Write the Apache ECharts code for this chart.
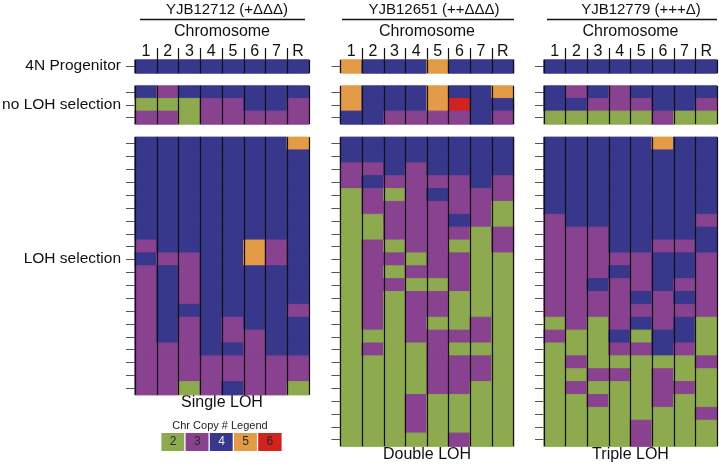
<!DOCTYPE html>
<html><head><meta charset="utf-8">
<script src="https://cdn.jsdelivr.net/npm/echarts@6/dist/echarts.min.js"></script>
<style>html,body{margin:0;padding:0;background:#fff}#c{width:719px;height:465px}</style>
</head><body><div id="c"></div>
<script>
// ---------- DATA ----------
const chromosomes = ['1','2','3','4','5','6','7','R'];
const panelTitles = ['YJB12712 (+ΔΔΔ)','YJB12651 (++ΔΔΔ)','YJB12779 (+++Δ)'];
const panelFooters = ['Single LOH','Double LOH','Triple LOH'];
const rowLabels = ['4N Progenitor','no LOH selection','LOH selection'];
const legendTitle = 'Chr Copy # Legend';
const copyNumbers = [2,3,4,5,6];

// copy numbers: 2 green, 3 purple, 4 blue, 5 orange, 6 red; rows top->bottom, columns 1..7,R
const p1Progenitor = [[4,4,4,4,4,4,4,4]];
const p1NoLoh = [
  [4,3,4,4,4,4,4,4],
  [2,2,2,3,3,4,4,3],
  [3,3,2,3,3,3,3,3]
];
const p1Loh = [
  [4,4,4,4,4,4,4,5],
  [4,4,4,4,4,4,4,4],
  [4,4,4,4,4,4,4,4],
  [4,4,4,4,4,4,4,4],
  [4,4,4,4,4,4,4,4],
  [4,4,4,4,4,4,4,4],
  [4,4,4,4,4,4,4,4],
  [4,4,4,4,4,4,4,4],
  [3,4,4,4,4,5,3,4],
  [4,3,3,4,4,5,3,4],
  [3,4,3,4,4,4,4,4],
  [3,4,3,4,4,4,4,4],
  [3,4,3,4,4,4,4,4],
  [3,4,4,4,4,4,4,3],
  [3,4,3,4,3,4,4,4],
  [3,4,3,4,3,3,4,4],
  [3,3,3,4,4,3,4,4],
  [3,3,3,3,3,3,3,3],
  [3,3,3,3,3,3,3,3],
  [3,3,2,3,4,3,3,2]
];

const p2Progenitor = [[5,4,4,4,5,4,4,4]];
const p2NoLoh = [
  [5,4,4,4,5,4,4,5],
  [5,4,4,4,5,6,4,4],
  [4,4,3,3,3,3,4,3]
];
const p2Loh = [
  [4,4,4,4,4,4,4,4],
  [4,4,4,4,4,4,4,4],
  [3,3,4,3,4,4,4,4],
  [3,4,3,3,3,3,4,3],
  [2,3,2,3,4,3,3,3],
  [2,3,3,3,3,3,3,2],
  [2,2,3,3,3,4,3,2],
  [2,2,3,3,3,3,2,3],
  [2,3,2,3,3,2,2,3],
  [2,3,3,2,3,3,2,2],
  [2,3,2,3,3,3,2,2],
  [2,3,3,2,2,3,2,2],
  [2,3,2,3,3,2,2,2],
  [2,3,2,3,3,2,2,2],
  [2,3,2,3,2,2,3,2],
  [2,2,2,3,3,3,3,2],
  [2,3,2,2,3,2,2,2],
  [2,2,2,2,3,3,3,2],
  [2,2,2,2,3,3,3,2],
  [2,2,2,2,3,3,2,2],
  [2,2,2,3,2,2,2,2],
  [2,2,2,3,2,2,2,2],
  [2,2,2,3,2,2,2,2],
  [2,2,2,2,2,3,2,2]
];

const p3Progenitor = [[4,4,4,4,4,4,4,4]];
const p3NoLoh = [
  [4,3,4,3,4,4,4,4],
  [4,4,3,3,3,4,4,3],
  [2,2,2,2,2,3,2,2]
];
const p3Loh = [
  [4,4,4,4,4,5,4,4],
  [4,4,4,4,4,4,4,4],
  [4,4,4,4,4,4,4,4],
  [4,4,4,4,4,4,4,4],
  [4,4,4,4,4,4,4,4],
  [4,4,4,4,4,4,4,4],
  [3,4,4,4,4,4,4,3],
  [3,3,3,4,4,4,4,4],
  [3,3,3,4,4,3,3,4],
  [3,3,3,3,3,4,4,3],
  [3,3,3,4,3,4,4,3],
  [3,3,4,3,3,4,3,3],
  [3,3,3,3,4,3,4,3],
  [3,3,3,3,3,3,3,3],
  [2,3,2,3,4,3,4,2],
  [3,2,2,4,2,4,4,2],
  [2,2,2,3,3,4,3,2],
  [2,3,2,2,2,2,2,3],
  [2,2,3,3,2,3,2,2],
  [2,3,2,2,2,3,3,2],
  [2,2,3,2,2,3,2,2],
  [2,2,2,2,2,2,2,3],
  [2,2,2,2,3,2,2,2],
  [2,2,2,2,3,2,2,2]
];

// ---------- STYLE / LAYOUT ----------
const copyColors = {2:'#8DAA4E',3:'#88428F',4:'#37378B',5:'#E49B48',6:'#D2221E'};
const FONT = "'Liberation Sans', Arial, sans-serif";
const panelLeft = [135, 340.5, 544];
const panelWidth = [174, 173, 173];
const underline = [[140,305],[342,514],[547,717]];
const titleCenter = [227, 434, 641];
const ROW_H = 12.87;
const panels = [
  {prog:p1Progenitor, noLoh:p1NoLoh, loh:p1Loh},
  {prog:p2Progenitor, noLoh:p2NoLoh, loh:p2Loh},
  {prog:p3Progenitor, noLoh:p3NoLoh, loh:p3Loh}
];

const grids=[], xAxes=[], yAxes=[], series=[], graphics=[];

function toCells(rows){
  const out=[];
  rows.forEach((row,r)=>row.forEach((v,c)=>out.push({value:[c,r,v], itemStyle:{borderColor:copyColors[v], borderWidth:0.9}})));
  return out;
}

panels.forEach((pn,p)=>{
  const L=panelLeft[p], W=panelWidth[p];
  // header grid (column numbers + dividers)
  let gi = grids.length;
  grids.push({left:L, top:48, width:W, height:12, outerBoundsMode:'none'});
  xAxes.push({type:'category', gridIndex:gi, data:chromosomes, position:'bottom',
    axisLine:{show:false}, axisTick:{show:false},
    axisLabel:{show:true, interval:0, margin:-8, verticalAlign:'middle', fontSize:16, color:'#111', fontFamily:FONT},
    splitLine:{show:true, interval:0, showMinLine:false, showMaxLine:false, lineStyle:{color:'#111', width:1.2}}});
  yAxes.push({type:'value', gridIndex:gi, show:false});

  const sections = [
    {rows:pn.prog, top:60, h:13},
    {rows:pn.noLoh, top:86, h:38},
    {rows:pn.loh, top:137.3, h:ROW_H*pn.loh.length}
  ];
  sections.forEach(s=>{
    gi = grids.length;
    grids.push({left:L, top:s.top, width:W, height:s.h, outerBoundsMode:'none'});
    xAxes.push({type:'category', gridIndex:gi, data:chromosomes, z:10,
      axisLine:{show:false}, axisTick:{show:false}, axisLabel:{show:false},
      splitLine:{show:true, interval:0, showMinLine:true, showMaxLine:true, lineStyle:{color:'#111', width:1.2}}});
    yAxes.push({type:'category', gridIndex:gi, inverse:true, data:s.rows.map((_,i)=>String(i)),
      axisLine:{show:false}, axisLabel:{show:false}, splitLine:{show:false},
      axisTick:{show:true, interval:0, length:9, alignWithLabel:true, lineStyle:{color:'#555', width:1}}});
    series.push({type:'heatmap', xAxisIndex:gi, yAxisIndex:gi, data:toCells(s.rows),
      silent:true, emphasis:{disabled:true}, progressive:0});
  });

  graphics.push({type:'text', x:titleCenter[p], y:10, style:{text:panelTitles[p], font:'15px '+FONT, fill:'#111', textAlign:'center', textVerticalAlign:'middle'}});
  graphics.push({type:'line', shape:{x1:underline[p][0], y1:19.5, x2:underline[p][1], y2:19.5}, style:{stroke:'#111', lineWidth:1.5}});
  graphics.push({type:'text', x:L+W/2, y:31.5, style:{text:'Chromosome', font:'16px '+FONT, fill:'#111', textAlign:'center', textVerticalAlign:'middle'}});
});

// footers
graphics.push({type:'text', x:panelLeft[0]+panelWidth[0]/2, y:403, style:{text:panelFooters[0], font:'16px '+FONT, fill:'#111', textAlign:'center', textVerticalAlign:'middle'}});
graphics.push({type:'text', x:panelLeft[1]+panelWidth[1]/2, y:455, style:{text:panelFooters[1], font:'16px '+FONT, fill:'#111', textAlign:'center', textVerticalAlign:'middle'}});
graphics.push({type:'text', x:panelLeft[2]+panelWidth[2]/2, y:455, style:{text:panelFooters[2], font:'16px '+FONT, fill:'#111', textAlign:'center', textVerticalAlign:'middle'}});
// row labels
[66, 104.5, 259].forEach((y,i)=>{
  graphics.push({type:'text', x:121, y:y, style:{text:rowLabels[i], font:'15.5px '+FONT, fill:'#111', textAlign:'right', textVerticalAlign:'middle'}});
});
// legend title
graphics.push({type:'text', x:220, y:425.5, style:{text:legendTitle, font:'11px '+FONT, fill:'#222', textAlign:'center', textVerticalAlign:'middle'}});

// legend swatches as a heatmap
let lg = grids.length;
grids.push({left:161, top:432.7, width:121, height:18.6, outerBoundsMode:'none'});
xAxes.push({type:'category', gridIndex:lg, data:copyNumbers.map(String), show:false});
yAxes.push({type:'category', gridIndex:lg, data:[''], show:false});
series.push({type:'heatmap', xAxisIndex:lg, yAxisIndex:lg, silent:true, emphasis:{disabled:true},
  data:copyNumbers.map((v,i)=>({value:[i,0,v], label:{color: v===4 ? '#e8e8f0' : '#2a2a2a'}})),
  itemStyle:{borderColor:'#fff', borderWidth:1.3},
  label:{show:true, fontSize:12, fontFamily:FONT, formatter:(d)=>String(d.value[2])}});

const chart = echarts.init(document.getElementById('c'), null, {renderer:'canvas'});
chart.setOption({
  animation:false,
  backgroundColor:'#fff',
  grid:grids, xAxis:xAxes, yAxis:yAxes, series:series,
  visualMap:{type:'piecewise', show:false, dimension:2,
    pieces:copyNumbers.map(v=>({value:v, color:copyColors[v]}))},
  graphic:graphics
});
</script></body></html>
